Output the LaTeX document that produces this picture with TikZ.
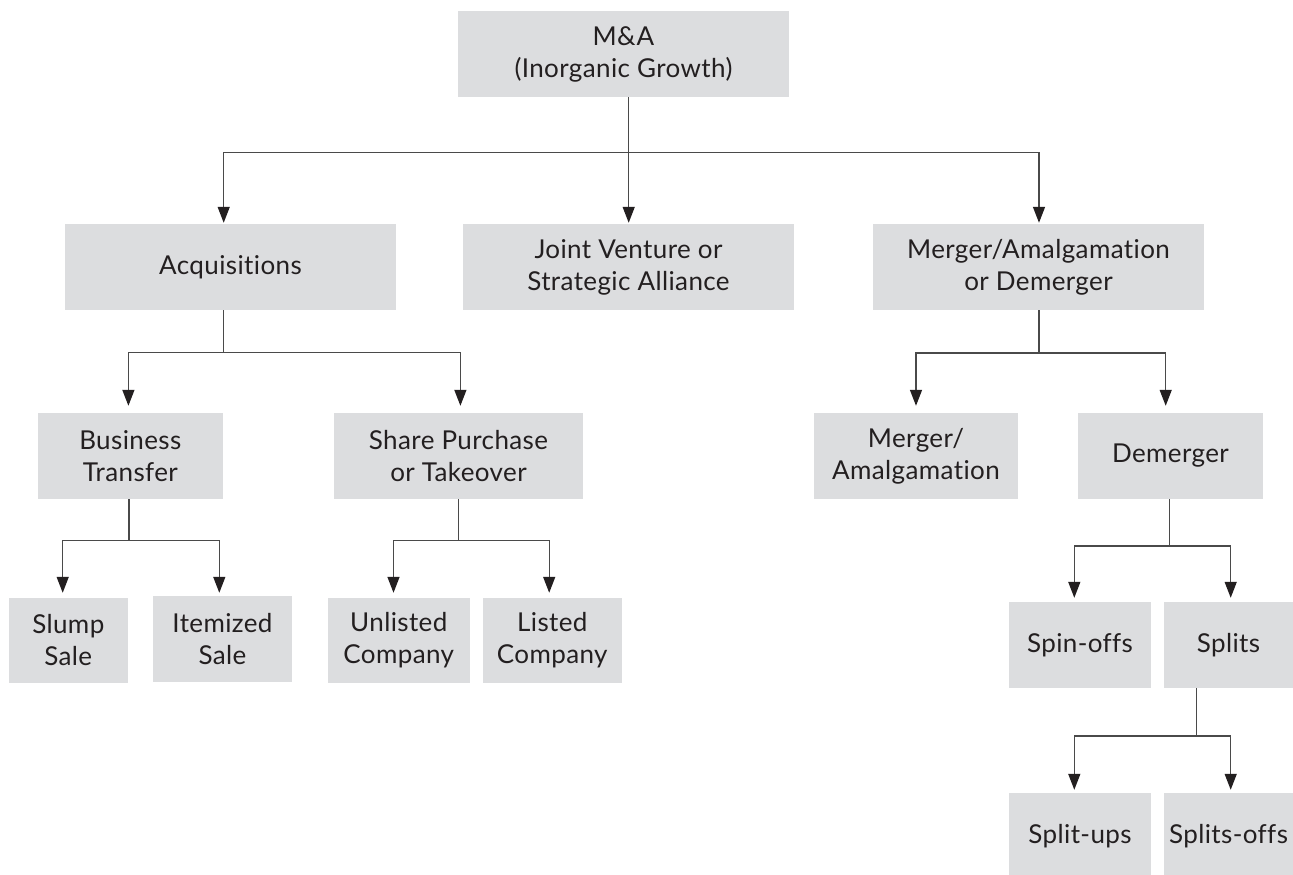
\documentclass[tikz,border=0pt]{standalone}
\usepackage{fontspec}
\setmainfont{Lato}[Ligatures={NoCommon}, LetterSpace=1.5]
\usetikzlibrary{arrows.meta}
\definecolor{boxgray}{HTML}{DCDDDF}
\definecolor{txt}{HTML}{231F20}
\definecolor{linec}{HTML}{4A4A4A}
\begin{document}
\begin{tikzpicture}[x=1pt,y=1pt,
  box/.style={fill=boxgray, draw=none, inner sep=0pt, align=center, text=txt,
    font=\fontsize{26}{32}\selectfont},
  conn/.style={draw=linec, line width=1.4pt},
  arr/.style={conn, -{Triangle[length=16pt,width=12pt,color=txt]}}
]
\useasboundingbox (0,0) rectangle (1293,-875);
\fill[white] (0,0) rectangle (1293,-875);

% level 0
\node[box, minimum width=331pt, minimum height=86pt] (root) at (623.5,-54) {M\&A\\(Inorganic Growth)};
% level 1
\node[box, minimum width=331pt, minimum height=86pt] (acq) at (230.5,-267) {Acquisitions};
\node[box, minimum width=331pt, minimum height=86pt] (jv) at (628.5,-267) {Joint Venture or\\Strategic Alliance};
\node[box, minimum width=331pt, minimum height=86pt] (ma) at (1038.5,-267) {Merger/Amalgamation\\or Demerger};
% level 2
\node[box, minimum width=185pt, minimum height=86pt] (bt) at (130.3,-456) {Business\\Transfer};
\node[box, minimum width=249pt, minimum height=86pt] (sp) at (458.5,-456) {Share Purchase\\or Takeover};
\node[box, minimum width=204pt, minimum height=86pt] (mer) at (916,-456) {Merger/\\Amalgamation};
\node[box, minimum width=185pt, minimum height=86pt] (dem) at (1170.5,-456) {Demerger};
% level 3
\node[box, minimum width=119pt, minimum height=85pt] (slump) at (68.3,-640.5) {Slump\\Sale};
\node[box, minimum width=139pt, minimum height=86pt] (item) at (222.5,-639) {Itemized\\Sale};
\node[box, minimum width=142pt, minimum height=85pt] (unl) at (398.8,-640.5) {Unlisted\\Company};
\node[box, minimum width=139pt, minimum height=85pt] (lis) at (552.3,-640.5) {Listed\\Company};
\node[box, minimum width=142pt, minimum height=86pt] (spin) at (1080,-645) {Spin-offs};
\node[box, minimum width=129pt, minimum height=86pt] (splits) at (1228.5,-645) {Splits};
% level 4
\node[box, minimum width=142pt, minimum height=86pt] (sup) at (1080,-836) {Split-ups};
\node[box, minimum width=129pt, minimum height=86pt] (soff) at (1228.5,-836) {Splits-offs};

% junctions
\coordinate (t1) at (628.7,-152.7);
\coordinate (t2) at (223.5,-352.7);
\coordinate (t3) at (1039,-353);
\coordinate (t4) at (128.8,-540.3);
\coordinate (t5) at (458.7,-540.3);
\coordinate (t6) at (1169.7,-546);
\coordinate (t7) at (1196.3,-736);

% root
\draw[conn] (root.south -| t1) -- (t1);
\draw[arr, shorten >=1pt] (t1) -- (jv.north -| t1);
\draw[arr, shorten >=1pt] (t1) -| ([xshift=-6.8pt]acq.north);
\draw[arr, shorten >=1pt] (t1) -| ([xshift=0.5pt]ma.north);
% acquisitions
\draw[conn] (acq.south -| t2) -- (t2);
\draw[arr, shorten >=7pt] (t2) -| ([xshift=-1.9pt]bt.north);
\draw[arr, shorten >=7pt] (t2) -| ([xshift=1.9pt]sp.north);
% merger / demerger
\draw[conn] (ma.south -| t3) -- (t3);
\draw[arr, shorten >=7pt] (t3) -| (mer.north);
\draw[arr, shorten >=7pt] (t3) -| ([xshift=-4.8pt]dem.north);
% business transfer
\draw[conn] (bt.south -| t4) -- (t4);
\draw[arr, shorten >=5pt] (t4) -| ([xshift=-5.6pt]slump.north);
\draw[arr, shorten >=3pt] (t4) -| ([xshift=-3.2pt]item.north);
% share purchase
\draw[conn] (sp.south -| t5) -- (t5);
\draw[arr, shorten >=5pt] (t5) -| ([xshift=-5.3pt]unl.north);
\draw[arr, shorten >=5pt] (t5) -| ([xshift=-3.1pt]lis.north);
% demerger
\draw[conn] (dem.south -| t6) -- (t6);
\draw[arr, shorten >=4pt] (t6) -| ([xshift=-5.7pt]spin.north);
\draw[arr, shorten >=4pt] (t6) -| ([xshift=2.2pt]splits.north);
% splits
\draw[conn] (splits.south -| t7) -- (t7);
\draw[arr, shorten >=3pt] (t7) -| ([xshift=-5.7pt]sup.north);
\draw[arr, shorten >=3pt] (t7) -| ([xshift=2.2pt]soff.north);
\end{tikzpicture}
\end{document}
